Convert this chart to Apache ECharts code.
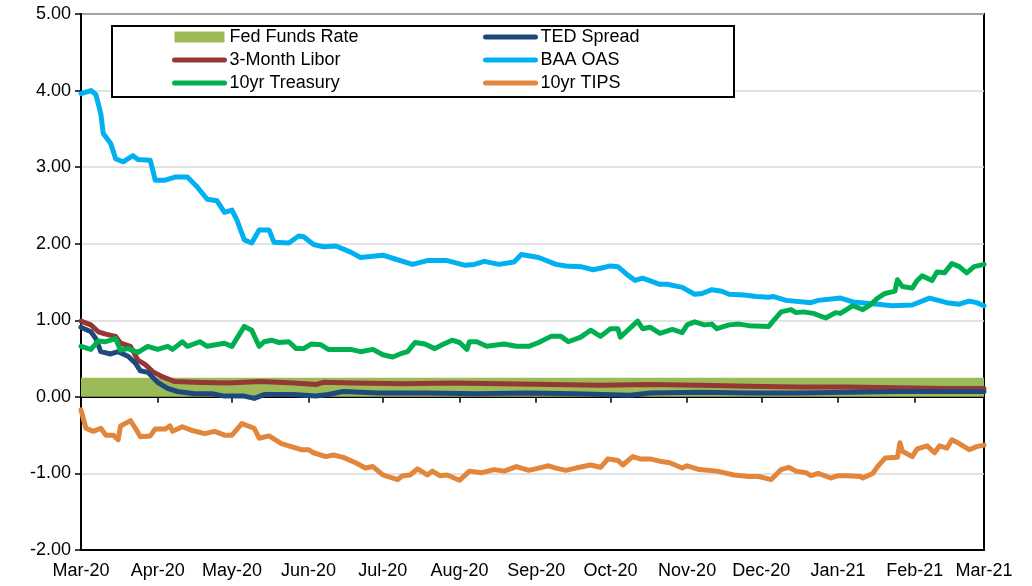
<!DOCTYPE html>
<html>
<head>
<meta charset="utf-8">
<script src="https://cdn.jsdelivr.net/npm/echarts@6/dist/echarts.min.js"></script>
<style>
    html, body { margin: 0; padding: 0; background: #fff; }
    #chart { width: 1032px; height: 586px; }
</style>
</head>
<body>
<div id="chart"></div>
<script>
// days are counted from 1 Mar 2020
const monthNames = ["Jan", "Feb", "Mar", "Apr", "May", "Jun", "Jul", "Aug", "Sep", "Oct", "Nov", "Dec"]

const fedDays = [0, 365]
const fedValues = [0.25, 0.25]

const liborDays = [0, 4, 7, 10, 14, 16, 20, 23, 26, 29, 33, 38, 46, 59, 73, 86, 95, 98, 110, 130, 150, 170, 190, 210, 230, 250, 270, 290, 310, 330, 350, 365]
const liborValues = [0.99, 0.94, 0.85, 0.82, 0.79, 0.70, 0.66, 0.48, 0.42, 0.33, 0.26, 0.20, 0.19, 0.18, 0.20, 0.18, 0.16, 0.19, 0.18, 0.17, 0.18, 0.17, 0.16, 0.15, 0.16, 0.15, 0.14, 0.13, 0.13, 0.12, 0.11, 0.11]

const tedDays = [0, 4, 6, 8, 12, 15, 19, 22, 24, 27, 31, 35, 39, 46, 53, 58, 66, 70, 74, 86, 95, 100, 106, 120, 140, 160, 180, 200, 222, 230, 250, 270, 290, 310, 330, 350, 365]
const tedValues = [0.91, 0.85, 0.76, 0.59, 0.56, 0.59, 0.53, 0.44, 0.34, 0.32, 0.19, 0.11, 0.07, 0.04, 0.04, 0.01, 0.01, -0.02, 0.03, 0.03, 0.01, 0.03, 0.07, 0.05, 0.05, 0.04, 0.05, 0.04, 0.02, 0.05, 0.06, 0.05, 0.05, 0.06, 0.07, 0.07, 0.07]

const baaDays = [0, 4, 6, 8, 9, 12, 14, 17, 21, 23, 28, 30, 34, 38, 43, 47, 51, 55, 58, 61, 63, 66, 69, 72, 76, 78, 84, 88, 90, 94, 98, 103, 109, 113, 122, 126, 134, 140, 148, 155, 159, 163, 169, 175, 178, 185, 192, 196, 202, 207, 210, 214, 217, 221, 224, 227, 234, 237, 243, 248, 251, 255, 259, 262, 268, 273, 278, 280, 285, 295, 298, 307, 312, 322, 328, 336, 343, 350, 355, 359, 362, 365]
const baaValues = [3.96, 4.00, 3.95, 3.70, 3.44, 3.31, 3.11, 3.07, 3.15, 3.10, 3.09, 2.83, 2.83, 2.87, 2.87, 2.74, 2.58, 2.56, 2.41, 2.44, 2.31, 2.05, 2.01, 2.18, 2.18, 2.02, 2.01, 2.10, 2.09, 1.99, 1.96, 1.97, 1.89, 1.82, 1.85, 1.81, 1.73, 1.78, 1.78, 1.72, 1.73, 1.77, 1.73, 1.76, 1.86, 1.82, 1.73, 1.71, 1.70, 1.66, 1.68, 1.71, 1.70, 1.59, 1.52, 1.55, 1.47, 1.47, 1.43, 1.34, 1.35, 1.40, 1.38, 1.34, 1.33, 1.31, 1.30, 1.31, 1.26, 1.23, 1.26, 1.29, 1.24, 1.21, 1.19, 1.20, 1.29, 1.23, 1.21, 1.25, 1.23, 1.19]

const treasuryDays = [0, 4, 7, 10, 14, 16, 19, 23, 27, 31, 35, 37, 41, 43, 48, 51, 58, 61, 66, 69, 72, 74, 77, 80, 84, 87, 90, 93, 97, 100, 109, 113, 118, 122, 126, 129, 132, 135, 139, 143, 146, 150, 153, 156, 157, 160, 164, 171, 176, 181, 185, 190, 194, 197, 202, 206, 210, 214, 217, 218, 221, 225, 227, 230, 234, 239, 243, 245, 248, 252, 255, 257, 262, 266, 270, 278, 280, 283, 287, 289, 292, 296, 301, 305, 307, 312, 316, 319, 322, 325, 329, 330, 332, 336, 338, 340, 344, 346, 349, 352, 355, 358, 361, 365]
const treasuryValues = [0.66, 0.62, 0.73, 0.72, 0.76, 0.61, 0.63, 0.58, 0.66, 0.62, 0.66, 0.62, 0.72, 0.66, 0.72, 0.66, 0.70, 0.66, 0.92, 0.87, 0.66, 0.72, 0.74, 0.71, 0.72, 0.63, 0.63, 0.69, 0.68, 0.62, 0.62, 0.59, 0.62, 0.55, 0.52, 0.56, 0.59, 0.71, 0.69, 0.63, 0.68, 0.74, 0.71, 0.62, 0.72, 0.72, 0.66, 0.69, 0.66, 0.66, 0.71, 0.79, 0.79, 0.72, 0.78, 0.87, 0.79, 0.89, 0.89, 0.78, 0.87, 0.99, 0.89, 0.91, 0.83, 0.88, 0.84, 0.94, 0.98, 0.94, 0.95, 0.89, 0.94, 0.95, 0.93, 0.92, 1.00, 1.11, 1.14, 1.10, 1.11, 1.09, 1.03, 1.10, 1.09, 1.19, 1.14, 1.20, 1.29, 1.35, 1.38, 1.53, 1.44, 1.42, 1.52, 1.58, 1.52, 1.63, 1.62, 1.74, 1.70, 1.62, 1.70, 1.73]

const tipsDays = [0, 2, 5, 8, 10, 13, 15, 16, 20, 22, 24, 28, 30, 34, 36, 37, 41, 45, 50, 54, 58, 61, 65, 70, 72, 76, 81, 85, 89, 92, 94, 99, 102, 106, 111, 115, 118, 122, 128, 130, 133, 136, 140, 142, 145, 148, 153, 157, 162, 167, 171, 176, 181, 185, 189, 192, 196, 200, 206, 210, 213, 217, 219, 223, 226, 230, 234, 238, 243, 245, 250, 257, 264, 270, 274, 279, 283, 286, 289, 293, 295, 298, 303, 306, 310, 315, 316, 320, 322, 325, 330, 331, 332, 336, 338, 342, 345, 347, 350, 352, 355, 359, 362, 365]
const tipsValues = [-0.17, -0.41, -0.45, -0.41, -0.50, -0.50, -0.56, -0.38, -0.31, -0.41, -0.52, -0.51, -0.42, -0.42, -0.38, -0.45, -0.39, -0.44, -0.48, -0.45, -0.50, -0.50, -0.35, -0.41, -0.54, -0.51, -0.61, -0.65, -0.69, -0.69, -0.73, -0.78, -0.76, -0.79, -0.86, -0.93, -0.91, -1.02, -1.08, -1.03, -1.02, -0.94, -1.02, -0.97, -1.03, -1.02, -1.09, -0.97, -0.99, -0.95, -0.97, -0.91, -0.96, -0.93, -0.90, -0.93, -0.96, -0.93, -0.89, -0.92, -0.81, -0.83, -0.89, -0.78, -0.81, -0.81, -0.84, -0.86, -0.93, -0.90, -0.95, -0.97, -1.02, -1.04, -1.04, -1.08, -0.95, -0.92, -0.97, -0.99, -1.03, -1.00, -1.06, -1.03, -1.03, -1.04, -1.06, -1.00, -0.91, -0.80, -0.79, -0.60, -0.71, -0.78, -0.68, -0.64, -0.73, -0.64, -0.67, -0.56, -0.61, -0.69, -0.65, -0.63]

const yTicks = [-2, -1, 0, 1, 2, 3, 4, 5]

function toPoints(days, values) {
    return days.map((d, i) => [new Date(2020, 2, 1 + d).getTime(), values[i]])
}

function lineSerie(name, color, days, values) {
    return {
        name: name,
        type: "line",
        color: color,
        symbol: "none",
        showSymbol: false,
        lineStyle: { width: 5, color: color, cap: "round", join: "round" },
        data: toPoints(days, values),
    }
}

// legend entry for a line: keep the thick line, hide the dot in its middle
function lineLegend(name) {
    return { name: name, icon: "inherit", itemStyle: { opacity: 0 } }
}

const startTime = new Date(2020, 2, 1).getTime()
const endTime = new Date(2021, 2, 1).getTime()
const font = "Arial, 'Liberation Sans', sans-serif"

const legendBase = {
    orient: "vertical",
    top: 28,
    padding: 0,
    itemGap: 5,
    itemWidth: 50,
    itemHeight: 11,
    selectedMode: false,
    lineStyle: { width: 5, cap: "round" },
    textStyle: { fontSize: 18, color: "#000", fontFamily: font },
}

const myChart = echarts.init(document.getElementById("chart"), null, { renderer: "canvas" })

const option = {
    backgroundColor: "#fff",
    animation: false,
    textStyle: { fontFamily: font, color: "#000" },
    grid: {
        left: 81,
        right: 48,
        top: 14,
        bottom: 36,
        show: true,
        borderColor: "#000",
        borderWidth: 2,
    },
    legend: [
        Object.assign({}, legendBase, {
            left: 172,
            data: [
                { name: "Fed Funds Rate", icon: "rect" },
                lineLegend("3-Month Libor"),
                lineLegend("10yr Treasury"),
            ],
        }),
        Object.assign({}, legendBase, {
            left: 483,
            data: [
                lineLegend("TED Spread"),
                lineLegend("BAA OAS"),
                lineLegend("10yr TIPS"),
            ],
        }),
    ],
    graphic: {
        elements: [
            {
                type: "rect",
                z: 3,
                shape: { x: 112, y: 26, width: 622, height: 71 },
                style: { fill: "#fff", stroke: "#000", lineWidth: 2 },
            },
        ],
    },
    xAxis: [
        {
            type: "time",
            min: startTime,
            max: endTime,
            position: "bottom",
            splitNumber: 12,
            minInterval: 28 * 86400000,
            maxInterval: 31 * 86400000,
            axisLine: { onZero: false, lineStyle: { color: "#000", width: 2 } },
            axisTick: { show: false },
            splitLine: { show: false },
            axisLabel: {
                fontSize: 18,
                color: "#000",
                margin: 12,
                fontFamily: font,
                formatter: value => {
                    const d = new Date(value)
                    return monthNames[d.getMonth()] + "-" + String(d.getFullYear()).slice(2)
                },
            },
        },
        {
            type: "time",
            min: startTime,
            max: endTime,
            position: "bottom",
            splitNumber: 12,
            minInterval: 28 * 86400000,
            maxInterval: 31 * 86400000,
            axisLine: { onZero: true, lineStyle: { color: "#000", width: 2 } },
            axisTick: { show: true, length: 6, lineStyle: { color: "#000", width: 1.5 } },
            splitLine: { show: false },
            axisLabel: { show: false },
        },
    ],
    yAxis: {
        type: "value",
        min: yTicks[0],
        max: yTicks[yTicks.length - 1],
        interval: 1,
        axisLine: { show: true, lineStyle: { color: "#000", width: 2 } },
        axisTick: { show: true, length: 6, lineStyle: { color: "#000", width: 1.5 } },
        axisLabel: {
            fontSize: 18,
            color: "#000",
            margin: 10,
            fontFamily: font,
            formatter: v => v.toFixed(2),
        },
        splitLine: { show: true, lineStyle: { color: "#D9D9D9", width: 1.5 } },
    },
    series: [
        {
            name: "Fed Funds Rate",
            type: "line",
            color: "#9BBB59",
            symbol: "none",
            showSymbol: false,
            lineStyle: { width: 0 },
            areaStyle: { color: "#9BBB59", opacity: 1 },
            data: toPoints(fedDays, fedValues),
        },
        lineSerie("3-Month Libor", "#953735", liborDays, liborValues),
        lineSerie("TED Spread", "#1F497D", tedDays, tedValues),
        lineSerie("BAA OAS", "#00B0F0", baaDays, baaValues),
        lineSerie("10yr Treasury", "#00B050", treasuryDays, treasuryValues),
        lineSerie("10yr TIPS", "#E2863B", tipsDays, tipsValues),
    ],
}

myChart.setOption(option, true)
</script>
</body>
</html>
